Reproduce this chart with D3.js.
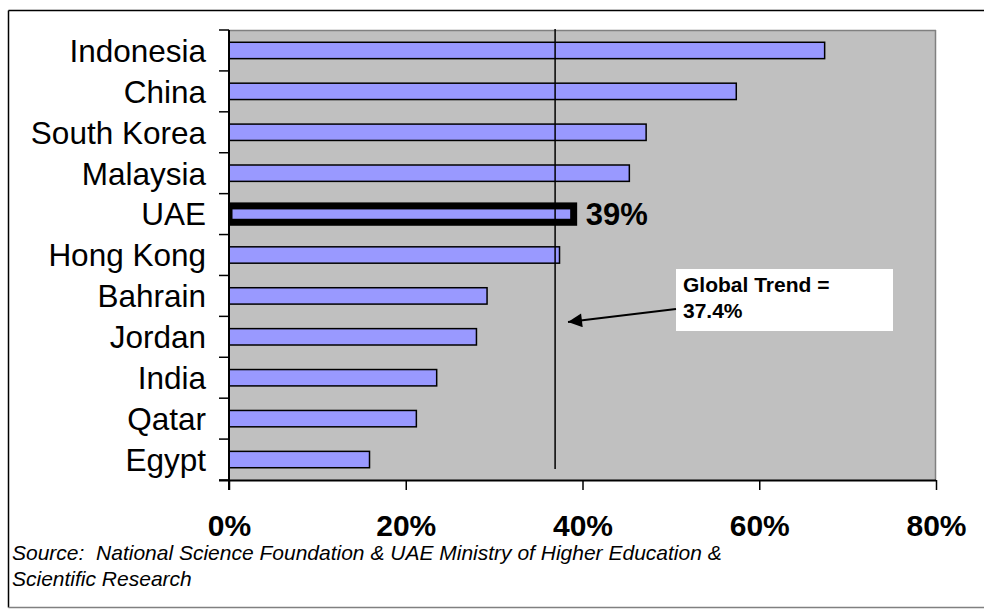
<!DOCTYPE html>
<html>
<head>
<meta charset="utf-8">
<script src="https://cdn.jsdelivr.net/npm/d3@7"></script>
<style>
  html, body { margin: 0; padding: 0; background: #ffffff; }
  svg { display: block; }
  text.src { white-space: pre; }
</style>
</head>
<body>
<svg id="chart" width="984" height="613"></svg>
<script>
// ---- data ----
const categories = ["Indonesia", "China", "South Korea", "Malaysia", "UAE", "Hong Kong",
                    "Bahrain", "Jordan", "India", "Qatar", "Egypt"];
const values = [67.4, 57.4, 47.2, 45.3, 39.0, 37.4, 29.2, 28.0, 23.5, 21.2, 15.9];
const highlightCategory = "UAE";
const highlightLabel = "39%";
const xTicks = [0, 20, 40, 60, 80];
const trendLineValue = 36.9;
const annotationLines = ["Global Trend =", "37.4%"];
const sourceLines = ["Source:  National Science Foundation & UAE Ministry of Higher Education &",
                     "Scientific Research"];

// ---- layout ----
const svg = d3.select("#chart");
const plot = { left: 229, right: 936, top: 30, bottom: 480 };

const x = d3.scaleLinear().domain([0, 80]).range([plot.left, plot.right]);
const y = d3.scaleBand().domain(categories).range([plot.top, plot.bottom])
  .paddingInner(0.6).paddingOuter(0.3);

// outer frame
svg.append("line").attr("x1", 8.5).attr("y1", 10.5).attr("x2", 984).attr("y2", 10.5)
  .attr("stroke", "#000").attr("stroke-width", 1.5);
svg.append("line").attr("x1", 8.5).attr("y1", 10.5).attr("x2", 8.5).attr("y2", 607.5)
  .attr("stroke", "#000").attr("stroke-width", 1.5);
svg.append("line").attr("x1", 8.5).attr("y1", 607.5).attr("x2", 984).attr("y2", 607.5)
  .attr("stroke", "#808080").attr("stroke-width", 1.5);

// plot background
svg.append("rect").attr("x", plot.left).attr("y", plot.top)
  .attr("width", plot.right - plot.left).attr("height", plot.bottom - plot.top)
  .attr("fill", "#C0C0C0");
svg.append("line").attr("x1", plot.left).attr("y1", plot.top + 0.5).attr("x2", plot.right).attr("y2", plot.top + 0.5)
  .attr("stroke", "#808080").attr("stroke-width", 1.5);
svg.append("line").attr("x1", plot.right - 0.5).attr("y1", plot.top).attr("x2", plot.right - 0.5).attr("y2", plot.bottom)
  .attr("stroke", "#808080").attr("stroke-width", 1.5);

svg.append("clipPath").attr("id", "plotclip").append("rect")
  .attr("x", plot.left).attr("y", plot.top - 20)
  .attr("width", plot.right - plot.left + 40).attr("height", plot.bottom - plot.top + 20);

// bars
const data = categories.map((c, i) => ({ c, v: values[i] }));
const gBars = svg.append("g").attr("clip-path", "url(#plotclip)");
gBars.selectAll("rect.bar").data(data).enter().append("rect")
  .attr("class", "bar")
  .attr("x", x(0))
  .attr("y", d => y(d.c))
  .attr("width", d => x(d.v) - x(0))
  .attr("height", y.bandwidth())
  .attr("fill", "#9999FF")
  .attr("stroke", "#000")
  .attr("stroke-width", d => d.c === highlightCategory ? 7 : 1.5);

// trend line
svg.append("line")
  .attr("x1", x(trendLineValue)).attr("x2", x(trendLineValue))
  .attr("y1", plot.top - 1).attr("y2", 469)
  .attr("stroke", "#000").attr("stroke-width", 1.5);

// highlight label
const hv = values[categories.indexOf(highlightCategory)];
svg.append("text")
  .attr("x", x(hv) + 12)
  .attr("y", y(highlightCategory) + y.bandwidth() / 2)
  .attr("dy", "0.36em")
  .attr("font-family", "Liberation Sans, Arial, sans-serif")
  .attr("font-weight", "bold")
  .attr("font-size", 31)
  .attr("fill", "#000")
  .text(highlightLabel);

// y axis: line + ticks at band boundaries + labels
const step = y.step();
const boundaries = d3.range(categories.length + 1).map(k => plot.top + k * step);
svg.append("line").attr("x1", plot.left).attr("x2", plot.left)
  .attr("y1", plot.top).attr("y2", plot.bottom + 10)
  .attr("stroke", "#000").attr("stroke-width", 2);
svg.selectAll("line.ytick").data(boundaries).enter().append("line")
  .attr("class", "ytick")
  .attr("x1", plot.left - 10).attr("x2", plot.left)
  .attr("y1", d => d).attr("y2", d => d)
  .attr("stroke", "#000").attr("stroke-width", 1.5);
svg.selectAll("text.ylab").data(categories).enter().append("text")
  .attr("class", "ylab")
  .attr("x", plot.left - 23)
  .attr("y", d => y(d) + y.bandwidth() / 2)
  .attr("dy", "0.36em")
  .attr("text-anchor", "end")
  .attr("font-family", "Liberation Sans, Arial, sans-serif")
  .attr("font-size", 31.5)
  .attr("fill", "#000")
  .text(d => d);

// x axis
const xAxis = d3.axisBottom(x).tickValues(xTicks).tickFormat(d => d + "%")
  .tickSize(10).tickSizeOuter(0);
const gx = svg.append("g").attr("transform", `translate(0,${plot.bottom})`).call(xAxis);
gx.select(".domain").attr("stroke", "#000").attr("stroke-width", 2)
  .attr("d", `M${plot.left - 10},0.5H${plot.right}`);
gx.selectAll(".tick line").attr("stroke", "#000").attr("stroke-width", 1.5);
gx.selectAll(".tick text")
  .attr("y", 56).attr("dy", null)
  .attr("font-family", "Liberation Sans, Arial, sans-serif")
  .attr("font-weight", "bold")
  .attr("font-size", 30)
  .attr("fill", "#000");

// annotation box
svg.append("rect").attr("x", 676).attr("y", 269).attr("width", 217).attr("height", 62)
  .attr("fill", "#fff");
svg.selectAll("text.ann").data(annotationLines).enter().append("text")
  .attr("class", "ann")
  .attr("x", 683)
  .attr("y", (d, i) => 292 + i * 26)
  .attr("font-family", "Liberation Sans, Arial, sans-serif")
  .attr("font-weight", "bold")
  .attr("font-size", 21)
  .attr("fill", "#000")
  .text(d => d);

// arrow
const defs = svg.append("defs");
defs.append("marker").attr("id", "arrowhead")
  .attr("viewBox", "0 0 10 10").attr("refX", 10).attr("refY", 5)
  .attr("markerWidth", 7.5).attr("markerHeight", 7).attr("markerUnits", "strokeWidth")
  .attr("orient", "auto")
  .append("path").attr("d", "M0,0 L10,5 L0,10 Z").attr("fill", "#000");
svg.append("line").attr("x1", 676).attr("y1", 309).attr("x2", 568).attr("y2", 322)
  .attr("stroke", "#000").attr("stroke-width", 2)
  .attr("marker-end", "url(#arrowhead)");

// source
svg.selectAll("text.src").data(sourceLines).enter().append("text")
  .attr("class", "src")
  .attr("x", 12)
  .attr("y", (d, i) => 560 + i * 26)
  .attr("font-family", "Liberation Sans, Arial, sans-serif")
  .attr("font-style", "italic")
  .attr("font-size", 21)
  .attr("fill", "#000")
  .text(d => d);
</script>
</body>
</html>
